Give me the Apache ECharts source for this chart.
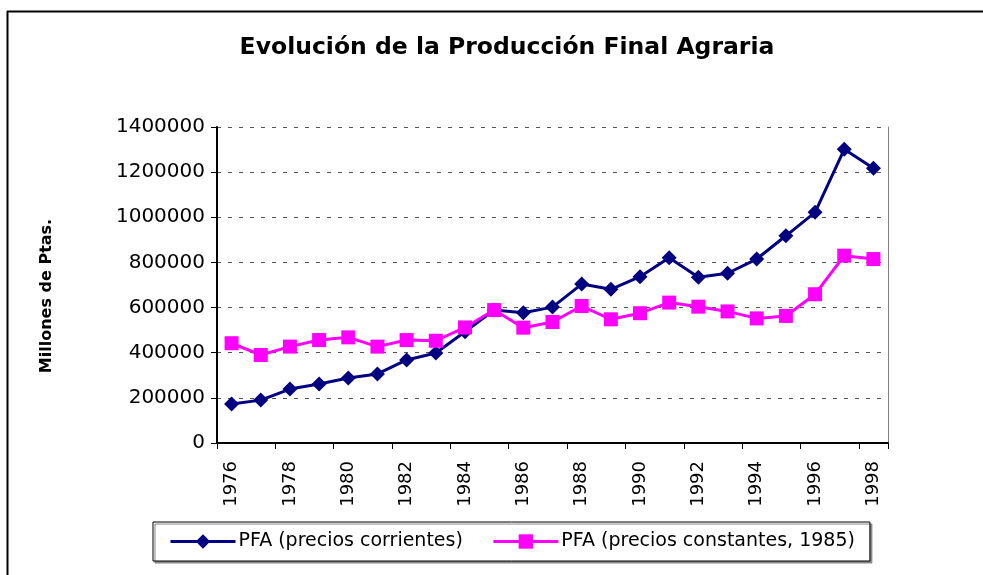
<!DOCTYPE html>
<html><head><meta charset="utf-8">
<script src="https://cdn.jsdelivr.net/npm/echarts@6/dist/echarts.min.js"></script>
<style>html,body{margin:0;padding:0;background:#fff}#c{width:983px;height:575px}</style>
</head><body><div id="c"></div>
<script>
const years = ['1976','1977','1978','1979','1980','1981','1982','1983','1984','1985','1986','1987','1988','1989','1990','1991','1992','1993','1994','1995','1996','1997','1998'];
const corrientes = [173000,190000,239000,261000,288000,306000,368000,399000,493000,589000,577000,602000,704000,681000,737000,821000,734000,752000,815000,918000,1022000,1301000,1217000];
const constantes = [442000,390000,427000,456000,468000,427000,456000,453000,512000,589000,511000,536000,607000,548000,575000,622000,604000,583000,552000,563000,659000,830000,815000];
const yTicks = {min:0, max:1400000, interval:200000};
const titleText = 'Evolución de la Producción Final Agraria';
const yName = 'Millones de Ptas.';
const names = ['PFA (precios corrientes)','PFA (precios constantes, 1985)'];

const font = '"DejaVu Sans", "Liberation Sans", Arial, sans-serif';
const chart = echarts.init(document.getElementById('c'), null, {renderer:'canvas'});
chart.setOption({
  animation:false,
  backgroundColor:'#fff',
  title:{text:titleText, left:502, top:31, textAlign:'center',
    textStyle:{fontFamily:font, fontSize:23.5, fontWeight:'bold', color:'#000'}},
  graphic:[
    {type:'line', shape:{x1:7,y1:11.5,x2:983,y2:11.5}, style:{stroke:'#000',lineWidth:2}},
    {type:'line', shape:{x1:7.5,y1:11,x2:7.5,y2:575}, style:{stroke:'#000',lineWidth:2}},
    {type:'text', x:47, y:296, rotation:Math.PI/2,
     style:{text:yName, fontFamily:font, fontSize:16, fontWeight:'bold', fill:'#000',
            align:'center', verticalAlign:'middle'}}
  ],
  legend:{left:153, top:522, orient:'horizontal', itemWidth:65, itemHeight:18, itemGap:29,
    padding:[10,15,10,16], borderColor:'#000', borderWidth:1, backgroundColor:'#fff',
    shadowColor:'#888', shadowOffsetX:2, shadowOffsetY:2,
    lineStyle:{width:3},
    textStyle:{fontFamily:font, fontSize:19, color:'#000', padding:[0,0,0,-2]},
    data:[names[0], names[1]]},
  grid:{left:217, right:95, top:127, bottom:132, containLabel:false},
  xAxis:{type:'category', data:years, boundaryGap:true,
    axisLine:{lineStyle:{color:'#000', width:2}},
    axisTick:{show:true, length:6, lineStyle:{color:'#000'}},
    axisLabel:{rotate:90, interval:1, fontFamily:font, fontSize:18, color:'#000', margin:18}},
  yAxis:[{type:'value', min:yTicks.min, max:yTicks.max, interval:yTicks.interval,
    axisLine:{show:true, lineStyle:{color:'#000', width:2}},
    axisTick:{show:true, length:6, lineStyle:{color:'#000'}},
    axisLabel:{fontFamily:font, fontSize:20, color:'#000', margin:12, formatter:v=>String(v)},
    splitLine:{show:true, lineStyle:{color:'#555', type:[4,7], width:1}}},
   {type:'value', position:'right', min:yTicks.min, max:yTicks.max, interval:yTicks.interval,
    axisLine:{show:true, lineStyle:{color:'#808080', width:1}},
    axisTick:{show:false}, axisLabel:{show:false}, splitLine:{show:false}}],
  series:[
    {name:names[0], type:'line', data:corrientes, symbol:'diamond', symbolSize:15,
     lineStyle:{color:'#000080', width:3}, itemStyle:{color:'#000080'}, color:'#000080'},
    {name:names[1], type:'line', data:constantes, symbol:'rect', symbolSize:14,
     lineStyle:{color:'#FF00FF', width:3}, itemStyle:{color:'#FF00FF'}, color:'#FF00FF'}
  ]
});
</script></body></html>
